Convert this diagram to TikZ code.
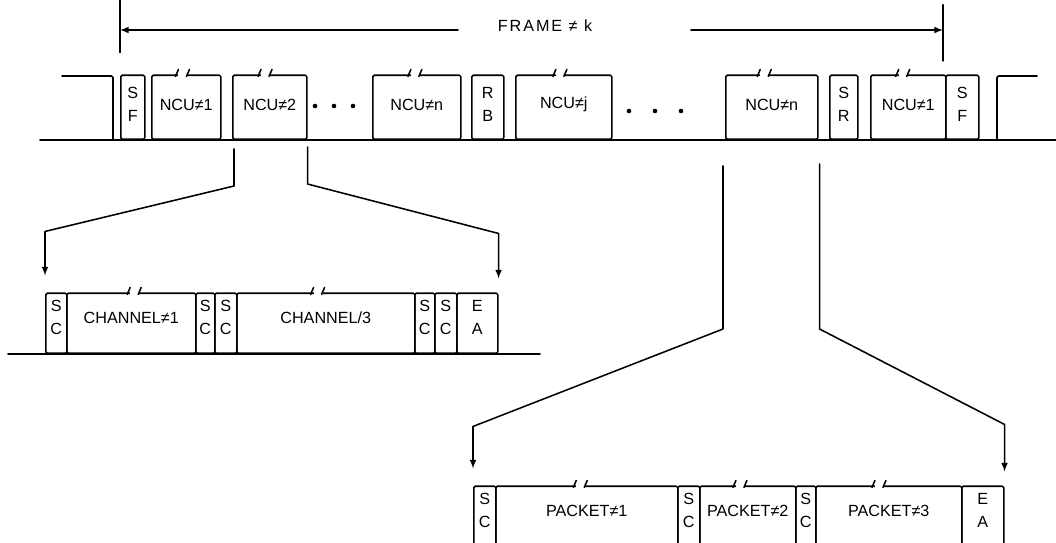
\documentclass[tikz,border=0pt]{standalone}
\usepackage{fontspec}
\setmainfont{Liberation Sans}
\usetikzlibrary{calc}
\tikzset{
  slot/.style={draw,line width=1.1pt,rounded corners=1pt,anchor=south west,inner sep=0pt},
  lbl/.style={font=\fontsize{11.5}{16}\selectfont,align=center,inner sep=0pt},
  conn/.style={line width=1.1pt,-latex},
}
\newcommand{\toff}{25}
% box with its text, x1 x2 top bottom in pixel units
\newcommand{\slot}[6]{%
  \node[slot,minimum width={(#3-#2)*0.025cm},minimum height={(#5-#4)*0.025cm}] (#1) at (#2,#5) {};
  \node[lbl] (#1-t) at ($(#1.north)+(0,\toff)$) {#6};}
% broken top edge
\newcommand{\brk}[2]{%
  \coordinate (bk) at ($(#1.north west)!#2!(#1.north east)$);
  \fill[white] ($(bk)+(-5,-2.5)$) rectangle ($(bk)+(4,2.5)$);
  \draw[line width=1.1pt] ($(bk)+(-8,2)$) -- ($(bk)+(-5,-5)$) ($(bk)+(3,2)$) -- ($(bk)+(6,-5)$);}

\begin{document}
\begin{tikzpicture}[x=0.025cm,y=-0.025cm,line cap=round,line join=round,>=latex]
  \useasboundingbox (0,0) rectangle (1056,542);
  % frame
  \node[lbl,font=\fontsize{11.5}{16}\selectfont\addfontfeature{LetterSpace=12}] (frame) at (545,26) {FRAME ≠ k};
  \coordinate (tl) at (120,30);
  \coordinate (tr) at (943,30);
  \coordinate (fl) at (458,30);
  \coordinate (fr) at (691,30);
  \draw[line width=1.1pt] ([yshift=-16]tl) -- ([yshift=27]tl);
  \draw[line width=1.1pt] ([yshift=-22]tr) -- ([yshift=18]tr);
  \draw[conn] (fl) -- (tl);
  \draw[conn] (fr) -- (tr);
  % top row
  \draw[line width=1.1pt] (40,140) -- (1056,140);
  \draw[line width=1.1pt,rounded corners=1pt] (62,76) -| (113,140);
  \draw[line width=1.1pt,rounded corners=1pt] (997,140) |- (1037,76);
  \renewcommand{\toff}{30}
  \foreach \n/\a/\b/\t in {sf1/120/144/{S\\F}, ncu1/151/220/NCU≠1, ncu2/232/306/NCU≠2,
      ncun/372/460/NCU≠n, rb/471/503/{R\\B}, ncuj/515/611/NCU≠j, ncux/725/817/NCU≠n,
      sr/829/857/{S\\R}, ncuy/870/945/NCU≠1, sf2/945/978/{S\\F}}
    {\slot{\n}{\a}{\b}{76}{140}{\t}}
  \foreach \n/\f in {ncu1/0.46, ncu2/0.45, ncun/0.49, ncuj/0.47, ncux/0.43, ncuy/0.44}
    {\brk{\n}{\f}}
  \foreach \x in {315,334,353} \fill (\x,106) circle[radius=2.3];
  \foreach \x in {629,655,681} \fill (\x,111) circle[radius=2.3];
  % channel row
  \renewcommand{\toff}{25}
  \draw[line width=1.1pt] (8,354) -- (540,354);
  \foreach \n/\a/\b/\t in {sca/45/66/{S\\C}, ch1/66/195/CHANNEL≠1, scb/195/214/{S\\C},
      scc/214/236/{S\\C}, ch3/236/414/{CHANNEL/3}, scd/414/434/{S\\C}, sce/434/456/{S\\C},
      ea/456/497/{E\\A}}
    {\slot{\n}{\a}{\b}{294}{354}{\t}}
  \brk{ch1}{0.53}
  \brk{ch3}{0.46}
  % packet row
  \foreach \n/\a/\b/\t in {spa/473/495/{S\\C}, pk1/495/677/PACKET≠1, spb/677/699/{S\\C},
      pk2/699/795/PACKET≠2, spc/795/815/{S\\C}, pk3/815/961/PACKET≠3, ea2/961/1003/{E\\A}}
    {\slot{\n}{\a}{\b}{487}{565}{\t}}
  \brk{pk1}{0.47}
  \brk{pk2}{0.43}
  \brk{pk3}{0.44}
  % connectors
  \draw[conn] ([shift={(2,9)}]ncu2.south west) -- ++(0,37)
    -- ($(sca.north west)+(0,-61)$) -- ($(sca.north west)+(0,-17)$);
  \draw[conn] ([shift={(0,7)}]ncu2.south east) -- ++(0,37)
    -- ($(ea.north east)+(0,-59)$) -- ($(ea.north east)+(0,-14)$);
  \draw[conn] ([shift={(-2,26)}]ncux.south west) -- ++(0,163)
    -- ($(spa.north west)+(0,-59)$) -- ($(spa.north west)+(0,-17)$);
  \draw[conn] ([shift={(1,24)}]ncux.south east) -- ++(0,165)
    -- ($(ea2.north east)+(0,-61)$) -- ($(ea2.north east)+(0,-14)$);
\end{tikzpicture}
\end{document}
